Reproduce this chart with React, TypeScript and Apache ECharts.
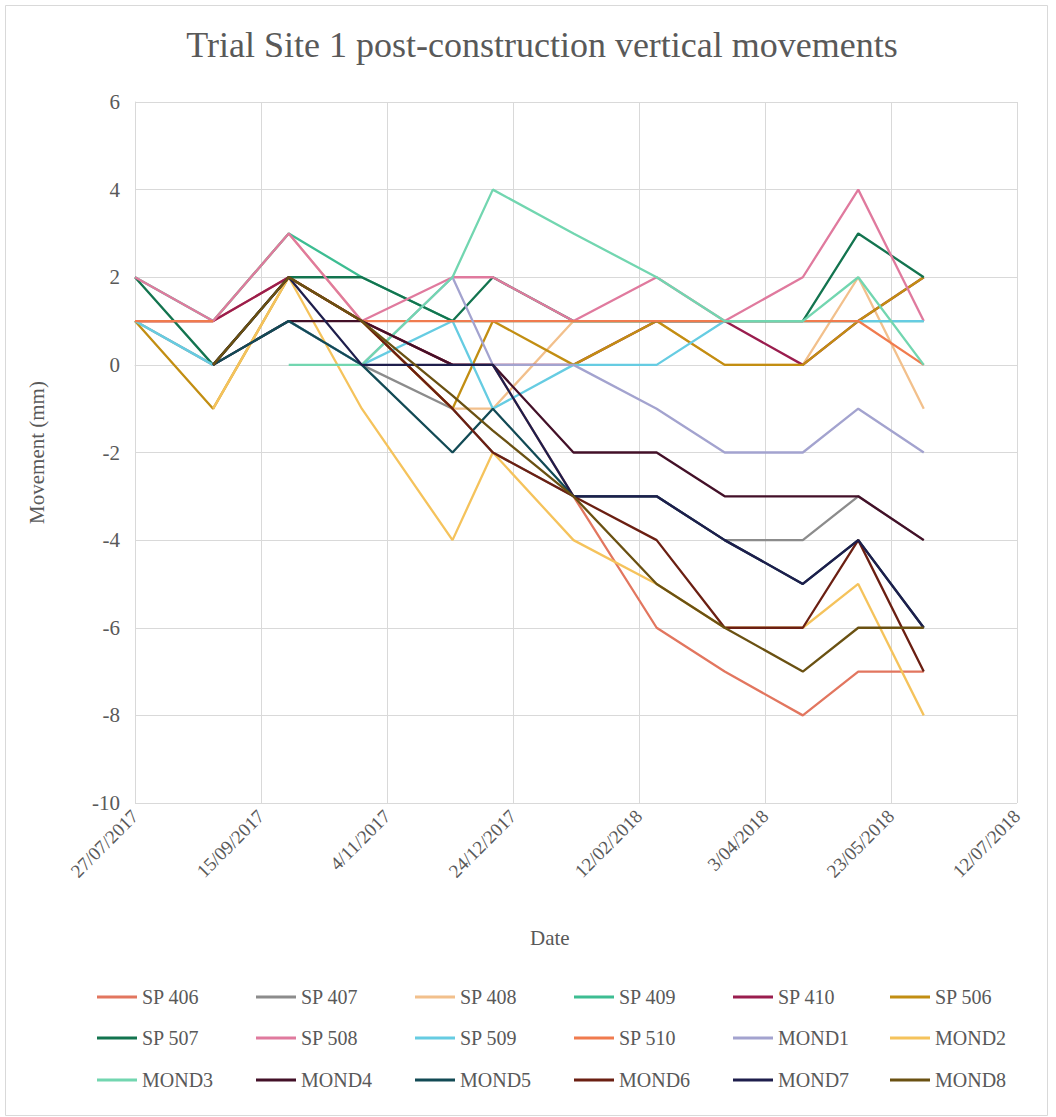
import React, { useEffect, useRef } from "react";
import * as echarts from "echarts";

// Survey dates (readings)
const dates = [
  "2017-07-27", "2017-08-27", "2017-09-26", "2017-10-25", "2017-11-30", "2017-12-16",
  "2018-01-17", "2018-02-19", "2018-03-18", "2018-04-18", "2018-05-10", "2018-06-05",
];

// X-axis tick labels (every 50 days from 27/07/2017)
const xTickLabels = [
  "27/07/2017", "15/09/2017", "4/11/2017", "24/12/2017",
  "12/02/2018", "3/04/2018", "23/05/2018", "12/07/2018",
];

// Movements (mm); null = no reading
const sp406 = [1, 1, 2, 1, 0, 0, -3, -6, -7, -8, -7, -7];
const sp407 = [1, 0, 1, 0, -1, -2, -3, -3, -4, -4, -3, -4];
const sp408 = [1, 1, 3, 1, -1, -1, 1, 1, 0, 0, 2, -1];
const sp409 = [2, 1, 3, 2, 1, 1, 1, 1, 1, 1, 1, 1];
const sp410 = [1, 1, 2, 1, 0, 0, 0, 1, 1, 0, 1, 2];
const sp506 = [1, -1, 2, 1, -1, 1, 0, 1, 0, 0, 1, 2];
const sp507 = [2, 0, 2, 2, 1, 2, 1, 1, 1, 1, 3, 2];
const sp508 = [2, 1, 3, 1, 2, 2, 1, 2, 1, 2, 4, 1];
const sp509 = [1, 0, 1, 0, 1, -1, 0, 0, 1, 1, 1, 1];
const sp510 = [1, 1, null, 1, 1, 1, 1, 1, 1, 1, 1, 0];
const mond1 = [null, 0, 1, 0, 2, 0, 0, -1, -2, -2, -1, -2];
const mond2 = [null, -1, 2, -1, -4, -2, -4, -5, -6, -6, -5, -8];
const mond3 = [null, null, 0, 0, 2, 4, 3, 2, 1, 1, 2, 0];
const mond4 = [null, 0, 1, 1, 0, 0, -2, -2, -3, -3, -3, -4];
const mond5 = [null, 0, 1, 0, -2, -1, -3, -3, -4, -5, -4, -6];
const mond6 = [null, 0, 2, 1, -1, -2, -3, -4, -6, -6, -4, -7];
const mond7 = [null, 0, 2, 0, 0, 0, -3, -3, -4, -5, -4, -6];
const mond8 = [null, 0, 2, 1, -0.7, -1.5, -3, -5, -6, -7, -6, -6];

const seriesNames = [
  "SP 406", "SP 407", "SP 408", "SP 409", "SP 410", "SP 506",
  "SP 507", "SP 508", "SP 509", "SP 510", "MOND1", "MOND2",
  "MOND3", "MOND4", "MOND5", "MOND6", "MOND7", "MOND8",
];
const seriesValues = [
  sp406, sp407, sp408, sp409, sp410, sp506,
  sp507, sp508, sp509, sp510, mond1, mond2,
  mond3, mond4, mond5, mond6, mond7, mond8,
];
const seriesColors = [
  "#E2765F", "#8C8C8C", "#F2C08C", "#3DBD92", "#9A1D4E", "#C28E12",
  "#13744F", "#E07A9E", "#66CCE2", "#F07B4E", "#A3A3CF", "#F5C35C",
  "#72D6B0", "#431028", "#124A55", "#6B1F12", "#1E1E4C", "#6A5112",
];

const FONT = "'Liberation Serif', 'Times New Roman', serif";
const TXT = "#595959";
const DAY = 86400000;
const base = Date.UTC(2017, 6, 27);
const dayOffset = (s: string) => {
  const [y, m, d] = s.split("-").map(Number);
  return Math.round((Date.UTC(y, m - 1, d) - base) / DAY);
};

export default function App() {
  const ref = useRef<HTMLDivElement>(null);
  useEffect(() => {
    if (!ref.current) return;
    const chart = echarts.init(ref.current, undefined, { renderer: "svg" });

    const series = seriesNames.map((name, i) => {
      const vals = seriesValues[i];
      const first = vals.findIndex((v) => v !== null);
      return {
        name,
        type: "line",
        symbol: "none",
        connectNulls: false,
        data: dates
          .map((d, j) => [dayOffset(d), vals[j] === null ? "-" : vals[j]])
          .filter((_, j) => j >= first),
        lineStyle: { width: 2.3, color: seriesColors[i] },
        itemStyle: { color: seriesColors[i] },
      };
    });

    const colX = [97, 256, 415, 574, 733, 890];
    const rowY = [987, 1028, 1070];
    const legends = seriesNames.map((name, i) => ({
      data: [name],
      icon: "rect",
      left: colX[i % 6],
      top: rowY[Math.floor(i / 6)],
      itemWidth: 40,
      itemHeight: 3,
      itemGap: 0,
      textStyle: { fontFamily: FONT, fontSize: 20, color: TXT, padding: [0, 0, 0, 0] },
      padding: 0,
    }));

    chart.setOption({
      animation: false,
      backgroundColor: "#ffffff",
      title: {
        text: "Trial Site 1 post-construction vertical movements",
        left: 537,
        top: 22,
        textAlign: "center",
        textStyle: { fontFamily: FONT, fontSize: 36, fontWeight: "normal", color: TXT },
      },
      legend: legends,
      grid: { left: 135, right: 39, top: 102, bottom: 314, containLabel: false },
      xAxis: {
        type: "value",
        min: 0,
        max: 350,
        interval: 50,
        axisLine: { show: true, lineStyle: { color: "#D9D9D9", width: 1 } },
        axisTick: { show: false },
        splitLine: { show: true, lineStyle: { color: "#D9D9D9", width: 1 } },
        axisLabel: {
          rotate: 45,
          margin: 10,
          fontFamily: FONT,
          fontSize: 19,
          color: TXT,
          formatter: (v: number) => xTickLabels[Math.round(v / 50)] ?? "",
        },
      },
      yAxis: {
        type: "value",
        min: -10,
        max: 6,
        interval: 2,
        name: "Movement (mm)",
        nameLocation: "middle",
        nameGap: 88,
        nameTextStyle: { fontFamily: FONT, fontSize: 21, color: TXT },
        axisLine: { show: true, lineStyle: { color: "#D9D9D9", width: 1 } },
        axisTick: { show: false },
        splitLine: { show: true, lineStyle: { color: "#D9D9D9", width: 1 } },
        axisLabel: { margin: 15, fontFamily: FONT, fontSize: 21, color: TXT },
      },
      graphic: [
        {
          type: "text",
          left: 530,
          top: 927,
          style: { text: "Date", fontFamily: FONT, fontSize: 21, fill: TXT },
          silent: true,
        },
        {
          type: "rect",
          left: 3,
          top: 3,
          shape: { x: 0, y: 0, width: 1042, height: 1110 },
          style: { fill: "none", stroke: "#D9D9D9", lineWidth: 1 },
          silent: true,
        },
      ],
      series,
    });
    return () => chart.dispose();
  }, []);
  return (
    <div
      ref={ref}
      style={{ position: "absolute", left: 0, top: 0, width: 1056, height: 1117 }}
    />
  );
}
